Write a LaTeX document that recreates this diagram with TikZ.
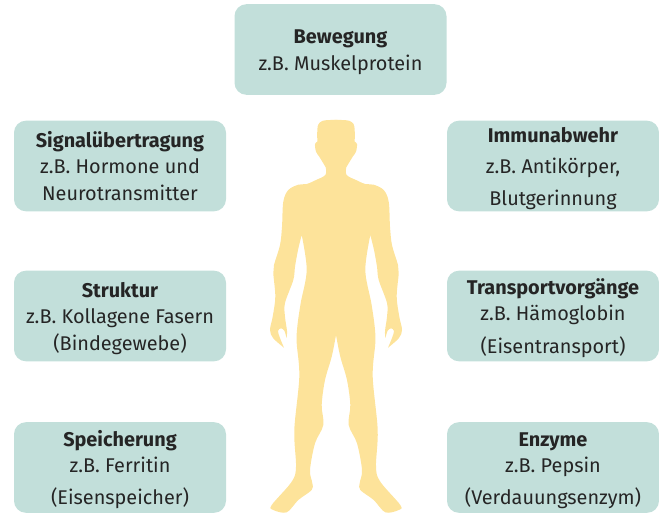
\documentclass[tikz,border=0pt]{standalone}
\usepackage{fontspec}
\setmainfont{Fira Sans}
\definecolor{boxgreen}{HTML}{C2DFDA}
\definecolor{bodyyellow}{HTML}{FDE39A}
\definecolor{textdark}{HTML}{252525}
\tikzset{
    infobox/.style={fill=boxgreen, rounded corners=9pt, inner sep=0pt, minimum width=159pt,
        minimum height=68pt, align=center, text=textdark, font=\fontsize{14.9}{19.8}\selectfont},
    bodypart/.style={fill=bodyyellow, draw=none}
}
\newcommand{\runter}{\\[-5pt]} % Text etwas tiefer setzen
\newcommand{\halfbody}{
    plot[smooth, tension=0.55] coordinates {(338,120) (330,120) (323,120.7) (318.5,124) (317.3,130) (317.3,141.7)}
    -- plot[smooth, tension=0.55] coordinates {(317.3,141.7) (315,144) (316,151.7) (319.3,156.7) (323.3,163.3) (325.7,167.3) (325.3,175) (316,180) (306.7,184) (298.3,184.7) (288.3,190) (283.3,201.7) (282,226.7) (280,245) (274,265) (273.3,273.3) (275.3,296.7) (272.7,316.7) (270,330) (273.3,338.3) (284,347.7)}
    -- plot[smooth, tension=0.55] coordinates {(284,347.7) (280,338) (278,331) (281,328.3) (284.5,331) (286.5,338)}
    -- plot[smooth, tension=0.55] coordinates {(286.5,338) (287,331) (285,316.7) (285,303) (293.3,280) (295,266.7) (298,250) (301.7,235)}
    -- plot[smooth, tension=0.55] coordinates {(301.7,235) (306.7,270) (300.7,303) (297.3,326.7) (296.7,343) (299.3,376.7) (294.3,430) (296,466.7) (291.7,481.7) (271.7,505) (273.3,510) (286.7,512.3) (298.3,500) (311.7,490) (312.3,483) (310,470) (315,443.3) (323.3,425) (321.7,405) (325,380) (331.7,356.7) (336,335)}
    -- (338,335) -- cycle
}

\begin{document}
\begin{tikzpicture}[x=0.75pt, y=-0.75pt]
    \useasboundingbox (0,0) rectangle (659,515);

    % Koerper
    \fill[bodypart] \halfbody;
    \begin{scope}[xscale=-1, xshift=-672*0.75pt]
        \fill[bodypart] \halfbody;
    \end{scope}

    % Kaesten
    \node[infobox] (bewegung) at (340.5,49.5) {\\[-5.5pt]\textbf{Bewegung}\\z.B. Muskelprotein};
    \node[infobox] (signal) at (120,166) {\textbf{Signalübertragung}\\z.B. Hormone und\\Neurotransmitter};
    \node[infobox] (struktur) at (120,316) {\runter\textbf{Struktur}\\z.B. Kollagene Fasern\\(Bindegewebe)};
    \node[infobox] (speicherung) at (120,467.5) {\runter\textbf{Speicherung}\\z.B. Ferritin\\[4pt](Eisenspeicher)};

    \node[infobox] (immunabwehr) at (553,166) {\runter\textbf{Immunabwehr}\\[4pt]z.B. Antikörper,\\[4pt]Blutgerinnung};
    \node[infobox] (transport) at (553,316) {\runter\textbf{Transportvorgänge}\\z.B. Hämoglobin\\[5pt](Eisentransport)};
    \node[infobox] (enzyme) at (553,467.5) {\runter\textbf{Enzyme}\\z.B. Pepsin\\[4pt](Verdauungsenzym)};
\end{tikzpicture}
\end{document}
